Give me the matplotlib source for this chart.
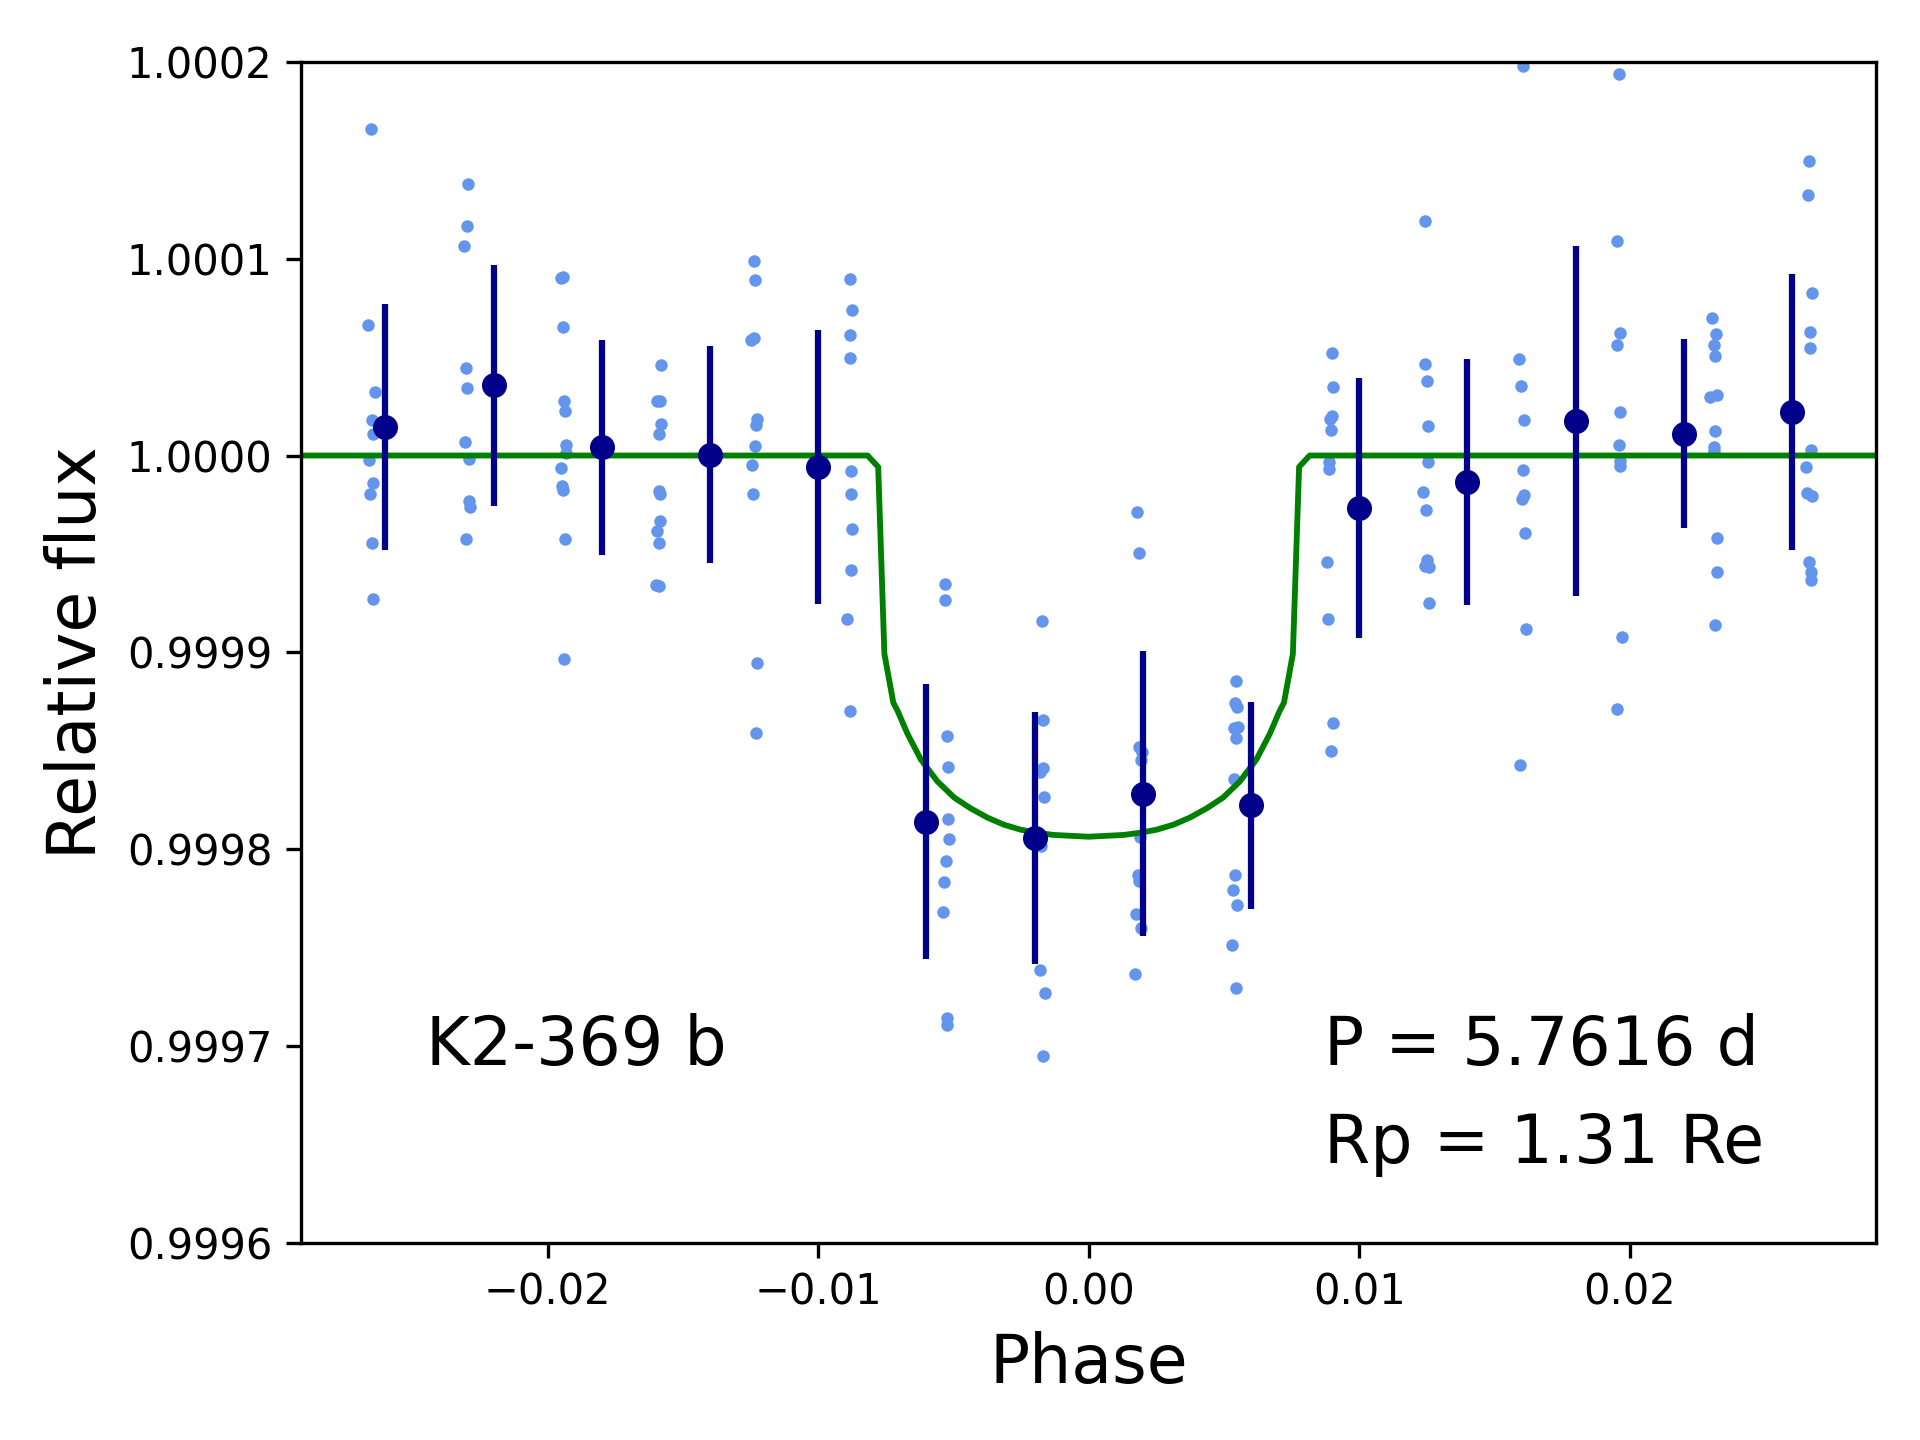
import matplotlib
matplotlib.use("Agg")
import matplotlib.pyplot as plt
from matplotlib.ticker import FormatStrFormatter

# Unbinned phase-folded photometry (phase, relative flux)
phase_raw = [
    -0.02653, -0.02665, -0.02639, -0.02650, -0.02644, -0.02661, -0.02647, -0.02658, -0.02650, -0.02647,
    -0.02293, -0.02297, -0.02308, -0.02301, -0.02297, -0.02304, -0.02291, -0.02291, -0.02286, -0.02301,
    -0.01951, -0.01942, -0.01944, -0.01940, -0.01936, -0.01933, -0.01933, -0.01951, -0.01945, -0.01942, -0.01935, -0.01940,
    -0.01579, -0.01595, -0.01583, -0.01579, -0.01587, -0.01590, -0.01583, -0.01583, -0.01597, -0.01587, -0.01599, -0.01587,
    -0.01238, -0.01235, -0.01238, -0.01249, -0.01225, -0.01231, -0.01235, -0.01246, -0.01242, -0.01227, -0.01231,
    -0.00884, -0.00873, -0.00881, -0.00884, -0.00877, -0.00877, -0.00873, -0.00877, -0.00892, -0.00881,
    -0.00531, -0.00531, -0.00523, -0.00520, -0.00520, -0.00516, -0.00527, -0.00534, -0.00538, -0.00523, -0.00523,
    -0.00173, -0.00169, -0.00169, -0.00178, -0.00166, -0.00175, -0.00180, -0.00162, -0.00169,
    0.00179, 0.00187, 0.00187, 0.00199, 0.00195, 0.00190, 0.00183, 0.00187, 0.00175, 0.00195, 0.00172,
    0.00544, 0.00540, 0.00547, 0.00536, 0.00551, 0.00544, 0.00536, 0.00540, 0.00533, 0.00547, 0.00529, 0.00544,
    0.00900, 0.00904, 0.00900, 0.00892, 0.00897, 0.00890, 0.00890, 0.00882, 0.00886, 0.00904, 0.00897,
    0.01245, 0.01243, 0.01250, 0.01254, 0.01254, 0.01236, 0.01247, 0.01250, 0.01243, 0.01258, 0.01258,
    0.01607, 0.01592, 0.01599, 0.01610, 0.01606, 0.01610, 0.01602, 0.01614, 0.01618, 0.01596,
    0.01959, 0.01955, 0.01963, 0.01955, 0.01963, 0.01959, 0.01963, 0.01963, 0.01970, 0.01952,
    0.02304, 0.02319, 0.02311, 0.02315, 0.02297, 0.02322, 0.02315, 0.02311, 0.02311, 0.02322, 0.02322, 0.02315,
    0.02663, 0.02660, 0.02674, 0.02667, 0.02667, 0.02670, 0.02652, 0.02656, 0.02674, 0.02663, 0.02670, 0.02670,
]
flux_raw = [
    1.0001660, 1.0000664, 1.0000324, 1.0000179, 1.0000111, 0.9999977, 0.9999859, 0.9999807, 0.9999553, 0.9999269,
    1.0001378, 1.0001166, 1.0001063, 1.0000445, 1.0000345, 1.0000071, 0.9999983, 0.9999769, 0.9999737, 0.9999574,
    1.0000903, 1.0000908, 1.0000653, 1.0000279, 1.0000227, 1.0000053, 1.0000015, 0.9999939, 0.9999847, 0.9999826, 0.9999574, 0.9998964,
    1.0000462, 1.0000279, 1.0000279, 1.0000158, 1.0000107, 0.9999821, 0.9999803, 0.9999666, 0.9999616, 0.9999555, 0.9999342, 0.9999336,
    1.0000989, 1.0000890, 1.0000598, 1.0000587, 1.0000185, 1.0000157, 1.0000047, 0.9999950, 0.9999807, 0.9998945, 0.9998592,
    1.0000895, 1.0000741, 1.0000612, 1.0000493, 0.9999920, 0.9999802, 0.9999625, 0.9999416, 0.9999168, 0.9998700,
    0.9999347, 0.9999264, 0.9998573, 0.9998419, 0.9998152, 0.9998050, 0.9997939, 0.9997832, 0.9997680, 0.9997140, 0.9997105,
    0.9999157, 0.9998656, 0.9998413, 0.9998394, 0.9998267, 0.9998014, 0.9997388, 0.9997270, 0.9996948,
    0.9999713, 0.9999504, 0.9998521, 0.9998494, 0.9998453, 0.9998063, 0.9997866, 0.9997836, 0.9997670, 0.9997597, 0.9997363,
    0.9998856, 0.9998743, 0.9998720, 0.9998617, 0.9998622, 0.9998564, 0.9998355, 0.9997869, 0.9997791, 0.9997715, 0.9997511, 0.9997295,
    1.0000519, 1.0000350, 1.0000199, 1.0000184, 1.0000128, 0.9999967, 0.9999929, 0.9999461, 0.9999169, 0.9998642, 0.9998499,
    1.0001190, 1.0000466, 1.0000380, 1.0000151, 0.9999965, 0.9999814, 0.9999723, 0.9999471, 0.9999441, 0.9999436, 0.9999252,
    1.0001981, 1.0000489, 1.0000351, 1.0000183, 0.9999927, 0.9999801, 0.9999780, 0.9999604, 0.9999119, 0.9998429,
    1.0001941, 1.0001089, 1.0000625, 1.0000564, 1.0000222, 1.0000052, 0.9999974, 0.9999948, 0.9999080, 0.9998710,
    1.0000698, 1.0000616, 1.0000564, 1.0000504, 1.0000297, 1.0000309, 1.0000126, 1.0000042, 1.0000021, 0.9999581, 0.9999407, 0.9999141,
    1.0001499, 1.0001326, 1.0000824, 1.0000630, 1.0000548, 1.0000030, 0.9999944, 0.9999810, 0.9999794, 0.9999459, 0.9999407, 0.9999370,
]

# Binned data
phase_bin = [-0.026, -0.022, -0.018, -0.014, -0.010, -0.006, -0.002,
             0.002, 0.006, 0.010, 0.014, 0.018, 0.022, 0.026]
flux_bin = [1.0000146, 1.0000356, 1.0000042, 1.0000003, 0.9999942, 0.9998140, 0.9998058,
            0.9998282, 0.9998223, 0.9999733, 0.9999865, 1.0000177, 1.0000111, 1.0000222]
err_bin = [6.25e-5, 6.10e-5, 5.46e-5, 5.51e-5, 6.94e-5, 7.00e-5, 6.40e-5,
           7.23e-5, 5.25e-5, 6.60e-5, 6.23e-5, 8.89e-5, 4.81e-5, 7.00e-5]

# Transit model curve
phase_model = [-0.0291, -0.00817, -0.00778, -0.00755, -0.00722, -0.00706, -0.00669, -0.00620,
               -0.00559, -0.00497, -0.00436, -0.00374, -0.00313, -0.00252, -0.00190, -0.00129,
               0.0,
               0.00129, 0.00190, 0.00252, 0.00313, 0.00374, 0.00436, 0.00497, 0.00559,
               0.00620, 0.00669, 0.00706, 0.00722, 0.00755, 0.00778, 0.00817, 0.0291]
flux_model = [1.0, 1.0, 0.9999942, 0.9998992, 0.9998744, 0.9998702, 0.9998584, 0.9998455,
              0.9998344, 0.9998262, 0.9998207, 0.9998160, 0.9998124, 0.9998099, 0.9998083, 0.9998072,
              0.9998063,
              0.9998072, 0.9998083, 0.9998099, 0.9998124, 0.9998160, 0.9998207, 0.9998262, 0.9998344,
              0.9998455, 0.9998584, 0.9998702, 0.9998744, 0.9998992, 0.9999942, 1.0, 1.0]

planet_name = "K2-369 b"
period_text = "P = 5.7616 d"
radius_text = "Rp = 1.31 Re"

fig = plt.figure(figsize=(6.4, 4.8), dpi=300)
ax = fig.add_axes([0.157, 0.137, 0.82, 0.82])

ax.plot(phase_raw, flux_raw, 'o', color='cornflowerblue', ms=3.0, mew=0, zorder=1)
ax.plot(phase_model, flux_model, '-', color='green', lw=1.4, zorder=2)
ax.errorbar(phase_bin, flux_bin, yerr=err_bin, fmt='o', color='darkblue',
            ms=5, elinewidth=1.5, capsize=0, zorder=3)

ax.set_xlim(-0.0291, 0.0291)
ax.set_ylim(0.9996, 1.0002)
ax.yaxis.set_major_formatter(FormatStrFormatter('%.4f'))
ax.tick_params(labelsize=10)

ax.set_xlabel("Phase", fontsize=16)
ax.set_ylabel("Relative flux", fontsize=16)

ax.text(-0.0245, 0.99970, planet_name, fontsize=16, va='center', ha='left')
ax.text(0.0087, 0.99970, period_text, fontsize=16, va='center', ha='left')
ax.text(0.0087, 0.99965, radius_text, fontsize=16, va='center', ha='left')

fig.savefig("out.png", dpi=300)
